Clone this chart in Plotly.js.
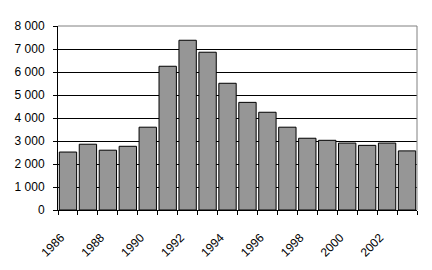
<!DOCTYPE html>
<html>
<head>
<meta charset="utf-8">
<script src="https://cdn.plot.ly/plotly-3.0.1.min.js"></script>
<style>html,body{margin:0;padding:0;background:#fff;}#chart{width:432px;height:270px;}</style>
</head>
<body>
<div id="chart"></div>
<script>
const years = [1986,1987,1988,1989,1990,1991,1992,1993,1994,1995,1996,1997,1998,1999,2000,2001,2002,2003];
const values = [2520,2860,2600,2770,3600,6250,7380,6860,5510,4680,4250,3600,3120,3030,2910,2810,2910,2570];
const xTickYears = [1986,1988,1990,1992,1994,1996,1998,2000,2002];
const yTicks = [0,1000,2000,3000,4000,5000,6000,7000,8000];

const trace = {
  type: 'bar',
  x: years,
  y: values,
  marker: {color: '#969696', line: {color: '#000000', width: 1}},
  hoverinfo: 'none'
};

const layout = {
  width: 432, height: 270,
  margin: {l: 58, r: 15, t: 26, b: 60, pad: 0},
  paper_bgcolor: '#ffffff', plot_bgcolor: '#ffffff',
  font: {family: 'Liberation Sans, Arial, sans-serif', size: 12, color: '#000000'},
  separators: ', ',
  bargap: 0.13,
  showlegend: false,
  xaxis: {
    type: 'linear',
    range: [1985.5, 2003.5],
    tickmode: 'array',
    tickvals: xTickYears,
    ticktext: xTickYears.map(String),
    tickangle: -45,
    ticks: '',
    ticklabelstandoff: 15,
    ticklabelshift: -7,
    showgrid: false,
    zeroline: false,
    showline: true, linecolor: '#000000', linewidth: 1,
    minor: {ticks: 'outside', ticklen: 4, tickcolor: '#000000', tickwidth: 1, tickmode: 'linear', tick0: 1985.5, dtick: 1, showgrid: false},
    tickfont: {size: 12},
    fixedrange: true
  },
  yaxis: {
    range: [0, 8000],
    tickmode: 'array',
    tickvals: yTicks,
    tickformat: ',d',
    ticks: 'outside', ticklen: 4, tickcolor: '#000000',
    showgrid: true, gridcolor: '#000000', gridwidth: 1,
    zeroline: false,
    showline: true, linecolor: '#000000', linewidth: 1,
    ticklabelstandoff: 6,
    tickfont: {size: 12},
    fixedrange: true
  },
  shapes: [
    {type: 'line', xref: 'paper', yref: 'paper', x0: 0, x1: 1, y0: 1, y1: 1, line: {color: '#808080', width: 1}, layer: 'above'},
    {type: 'line', xref: 'paper', yref: 'paper', x0: 1, x1: 1, y0: 0, y1: 1, line: {color: '#808080', width: 1}, layer: 'above'}
  ]
};

Plotly.newPlot('chart', [trace], layout, {staticPlot: true, displayModeBar: false});
</script>
</body>
</html>
